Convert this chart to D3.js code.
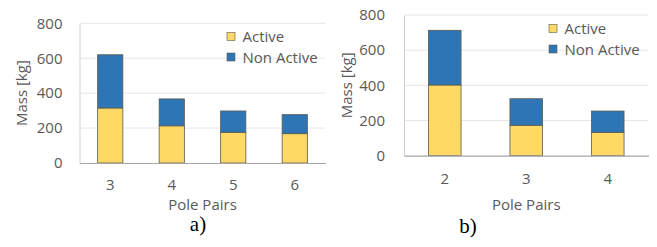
<!DOCTYPE html>
<html>
<head>
<meta charset="utf-8">
<script src="https://cdn.jsdelivr.net/npm/d3@7"></script>
<style>
  body { margin: 0; background: #fff; }
  text { font-family: "Open Sans", "Noto Sans", sans-serif; fill: #595959; }
</style>
</head>
<body>
<script>
var width = 657;
var height = 247;

// chart a)
var polesA = ["3", "4", "5", "6"];
var activeA = [315, 213, 176, 168];
var nonActiveA = [305, 154, 122, 109];

// chart b)
var polesB = ["2", "3", "4"];
var activeB = [402, 173, 133];
var nonActiveB = [311, 151, 121];

var yTicks = [0, 200, 400, 600, 800];
var seriesNames = ["Active", "Non Active"];
var colors = ["#FFD966", "#2E75B6"];

var svg = d3.select("body").append("svg")
    .attr("width", width)
    .attr("height", height);

function drawChart(cfg) {
    var g = svg.append("g");

    var x = d3.scaleBand()
        .domain(cfg.cats)
        .range([cfg.left, cfg.right])
        .paddingInner(cfg.pad)
        .paddingOuter(cfg.pad / 2);

    var y = d3.scaleLinear()
        .domain([0, 800])
        .range([cfg.bottom, cfg.top]);

    // gridlines
    g.selectAll(".grid")
        .data(yTicks.slice(1))
        .enter()
        .append("line")
        .attr("x1", cfg.left)
        .attr("x2", cfg.right)
        .attr("y1", function(d) { return y(d); })
        .attr("y2", function(d) { return y(d); })
        .attr("stroke", "#e6e6e6")
        .attr("stroke-width", 1);

    // y tick labels
    var yAxis = d3.axisLeft(y).tickValues(yTicks).tickSize(0).tickPadding(cfg.yPad);
    var ya = g.append("g")
        .attr("transform", "translate(" + cfg.left + ",0)")
        .call(yAxis);
    ya.select(".domain").attr("stroke", "#d0d0d0");
    ya.selectAll("text").attr("font-size", "15px").attr("fill", "#595959")
        .attr("font-family", "'Open Sans', sans-serif");

    // stacked bars
    var rows = cfg.cats.map(function(c, i) {
        return { cat: c, Active: cfg.active[i], "Non Active": cfg.nonActive[i] };
    });
    var stacked = d3.stack().keys(seriesNames)(rows);

    g.selectAll(".series")
        .data(stacked)
        .enter()
        .append("g")
        .attr("fill", function(d, i) { return colors[i]; })
        .selectAll("rect")
        .data(function(d) { return d; })
        .enter()
        .append("rect")
        .attr("x", function(d) { return x(d.data.cat); })
        .attr("y", function(d) { return y(d[1]); })
        .attr("width", x.bandwidth())
        .attr("height", function(d) { return y(d[0]) - y(d[1]); })
        .attr("stroke", "#5b5b4f")
        .attr("stroke-width", 0.8);

    // x axis
    var xAxis = d3.axisBottom(x).tickSize(0).tickPadding(cfg.xPad);
    var xa = g.append("g")
        .attr("transform", "translate(0," + cfg.bottom + ")")
        .call(xAxis);
    xa.select(".domain").attr("stroke", "#a6a6a6").attr("stroke-width", 1.2);
    xa.selectAll("text").attr("font-size", "15px").attr("fill", "#595959")
        .attr("font-family", "'Open Sans', sans-serif");

    // axis titles
    g.append("text")
        .attr("x", (cfg.left + cfg.right) / 2)
        .attr("y", 210)
        .attr("text-anchor", "middle")
        .attr("font-size", "15px")
        .text("Pole Pairs");

    g.append("text")
        .attr("transform", "translate(" + cfg.yTitleX + "," + ((cfg.top + cfg.bottom) / 2) + ") rotate(-90)")
        .attr("text-anchor", "middle")
        .attr("font-size", "15px")
        .text("Mass [kg]");

    // legend
    var lg = g.append("g")
        .attr("transform", "translate(" + cfg.legX + "," + cfg.legY + ")");
    seriesNames.forEach(function(name, i) {
        lg.append("rect")
            .attr("x", 0)
            .attr("y", i * 20.5)
            .attr("width", 8)
            .attr("height", 8)
            .attr("fill", colors[i])
            .attr("stroke", "#5b5b4f")
            .attr("stroke-width", 0.6);
        lg.append("text")
            .attr("x", 15.5)
            .attr("y", i * 20.5 + 9.5)
            .attr("font-size", "15px")
            .text(name);
    });

    // panel label
    g.append("text")
        .attr("x", cfg.labelX)
        .attr("y", cfg.labelY)
        .attr("text-anchor", "middle")
        .attr("font-size", "21px")
        .style("font-family", "'Liberation Serif', 'Times New Roman', serif")
        .style("fill", "#000")
        .text(cfg.label);
}

drawChart({
    cats: polesA, active: activeA, nonActive: nonActiveA,
    left: 79.5, right: 325.5, top: 23.3, bottom: 163, pad: 0.59,
    yPad: 17, xPad: 16, yTitleX: 27,
    legX: 227, legY: 32.5, label: "a)", labelX: 198, labelY: 231
});

drawChart({
    cats: polesB, active: activeB, nonActive: nonActiveB,
    left: 404, right: 648.5, top: 15, bottom: 155.7, pad: 0.6,
    yPad: 19, xPad: 18, yTitleX: 352,
    legX: 549, legY: 24.5, label: "b)", labelX: 468, labelY: 233
});
</script>
</body>
</html>
